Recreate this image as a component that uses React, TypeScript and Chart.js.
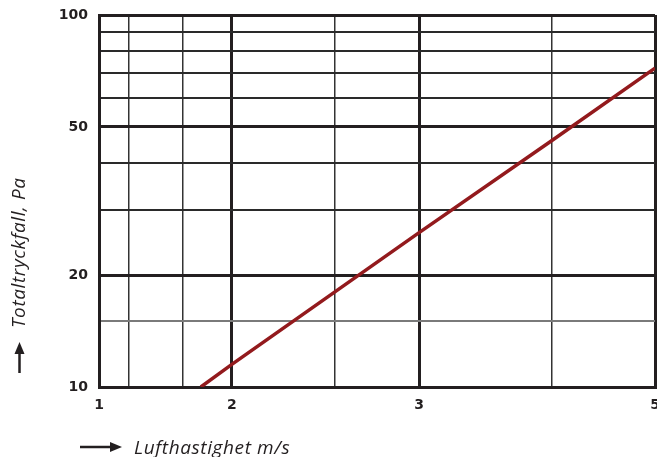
import React, { useEffect, useRef } from "react";
import { Chart, registerables } from "chart.js";

Chart.register(...registerables);

// Data
const velocity = [1.87, 2, 3, 4, 5];
const pressure = [10, 11.5, 26, 46, 72];

// X axis (logarithmic) grid positions and labels
const xGridValues = [1.5, 1.6, 1.8, 2, 2.5, 3, 4, 5];
const xMajorValues = [1.5, 2, 3, 5];
const xTickValues = [1.5, 2, 3, 5];
const xTickLabels = ["1", "2", "3", "5"];

// Y axis (logarithmic) grid positions and labels
const yGridValues = [10, 15, 20, 30, 40, 50, 60, 70, 80, 90, 100];
const yMajorValues = [10, 20, 50, 100];
const yTickValues = [10, 20, 50, 100];
const yTickLabels = ["10", "20", "50", "100"];

const xTitle = "Lufthastighet m/s";
const yTitle = "Totaltryckfall, Pa";

const INK = "#231f20";
const TITLE_FONT = "italic 400 19px 'Open Sans'";

function drawArrow(ctx: CanvasRenderingContext2D, x1: number, y1: number, x2: number, y2: number) {
  const ang = Math.atan2(y2 - y1, x2 - x1);
  const headLen = 12;
  const headW = 5;
  const bx = x2 - headLen * Math.cos(ang);
  const by = y2 - headLen * Math.sin(ang);
  ctx.save();
  ctx.strokeStyle = INK;
  ctx.fillStyle = INK;
  ctx.lineWidth = 2.5;
  ctx.beginPath();
  ctx.moveTo(x1, y1);
  ctx.lineTo(bx, by);
  ctx.stroke();
  ctx.beginPath();
  ctx.moveTo(x2, y2);
  ctx.lineTo(bx + headW * Math.sin(ang), by - headW * Math.cos(ang));
  ctx.lineTo(bx - headW * Math.sin(ang), by + headW * Math.cos(ang));
  ctx.closePath();
  ctx.fill();
  ctx.restore();
}

const titlePlugin = {
  id: "titles",
  afterDraw(chart: any) {
    const ctx: CanvasRenderingContext2D = chart.ctx;
    ctx.save();
    ctx.fillStyle = INK;
    ctx.font = TITLE_FONT;
    (ctx as any).letterSpacing = "0.6px";
    ctx.textBaseline = "alphabetic";
    ctx.textAlign = "left";
    ctx.fillText(xTitle, 134, 454);
    drawArrow(ctx, 80, 447, 122, 447);

    ctx.translate(25, 328);
    ctx.rotate(-Math.PI / 2);
    ctx.textAlign = "left";
    ctx.fillText(yTitle, 0, 0);
    ctx.restore();
    drawArrow(ctx, 19.5, 373, 19.5, 342);
  },
};

export default function App() {
  const ref = useRef<HTMLCanvasElement>(null);

  useEffect(() => {
    if (!ref.current) return;
    const chart = new Chart(ref.current, {
      type: "line",
      data: {
        datasets: [
          {
            data: velocity.map((v, i) => ({ x: v, y: pressure[i] })),
            borderColor: "#931a1d",
            borderWidth: 3.5,
            pointRadius: 0,
            fill: false,
            tension: 0,
          },
        ],
      },
      options: {
        animation: false,
        responsive: false,
        devicePixelRatio: 1,
        layout: { padding: { left: 0, top: 15, right: 2, bottom: 0 } },
        plugins: { legend: { display: false }, tooltip: { enabled: false } },
        scales: {
          x: {
            type: "logarithmic",
            min: 1.5,
            max: 5,
            afterBuildTicks: (scale: any) => {
              scale.ticks = xGridValues.map((v) => ({ value: v }));
            },
            afterFit: (scale: any) => {
              scale.height = 70;
              scale.paddingLeft = 0;
              scale.paddingRight = 0;
            },
            ticks: {
              autoSkip: false,
              maxRotation: 0,
              minRotation: 0,
              padding: 10,
              color: INK,
              font: { family: "DejaVu Sans", weight: "bold", size: 14 },
              callback: (val: any) => {
                const i = xTickValues.indexOf(Number(val));
                return i >= 0 ? xTickLabels[i] : "";
              },
            },
            grid: {
              drawTicks: false,
              color: (c: any) => (xMajorValues.includes(c.tick?.value) ? INK : "#333"),
              lineWidth: (c: any) => (xMajorValues.includes(c.tick?.value) ? 3 : 1.5),
            },
            border: { display: true, color: INK, width: 3 },
          },
          y: {
            type: "logarithmic",
            min: 10,
            max: 100,
            afterBuildTicks: (scale: any) => {
              scale.ticks = yGridValues.map((v) => ({ value: v }));
            },
            afterFit: (scale: any) => {
              scale.width = 99;
              scale.paddingTop = 0;
              scale.paddingBottom = 0;
            },
            ticks: {
              autoSkip: false,
              padding: 11,
              color: INK,
              font: { family: "DejaVu Sans", weight: "bold", size: 14 },
              callback: (val: any) => {
                const i = yTickValues.indexOf(Number(val));
                return i >= 0 ? yTickLabels[i] : "";
              },
            },
            grid: {
              drawTicks: false,
              color: (c: any) =>
                yMajorValues.includes(c.tick?.value) ? INK : c.tick?.value === 15 ? "#7a7a7a" : "#2a2a2a",
              lineWidth: (c: any) => (yMajorValues.includes(c.tick?.value) ? 3 : 2),
            },
            border: { display: true, color: INK, width: 3 },
          },
        },
      },
      plugins: [titlePlugin],
    } as any);
    return () => chart.destroy();
  }, []);

  return (
    <div style={{ position: "absolute", left: 0, top: 0, width: 657, height: 457, background: "#fff" }}>
      <canvas ref={ref} width={657} height={457} style={{ display: "block" }} />
    </div>
  );
}
